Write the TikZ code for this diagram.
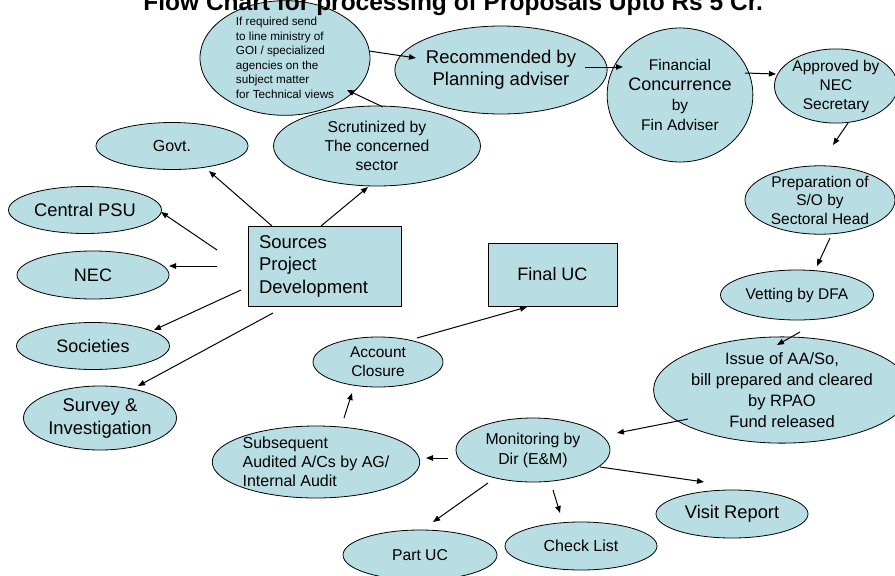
\documentclass[tikz,border=0pt]{standalone}
\usepackage{fontspec}
\setmainfont{Liberation Sans}
\usetikzlibrary{shapes.geometric,arrows.meta}
\newcommand\fsz[2]{\fontsize{#1}{#2}\selectfont}
\definecolor{cellfill}{RGB}{184,222,227}
\tikzset{
  ell/.style={ellipse, draw=black, line width=0.8pt, fill=cellfill, inner sep=0pt, align=center},
  boxn/.style={rectangle, draw=black, line width=0.8pt, fill=cellfill, inner sep=0pt},
  arr/.style={line width=1pt, -{Triangle[length=7pt,width=5.5pt]}},
}
\begin{document}
\begin{tikzpicture}[x=1pt,y=-1pt]
\useasboundingbox (0,0) rectangle (895,576);
% top row
\node[ell, minimum width=170, minimum height=96, align=left, font=\fsz{11.7}{14.5}] (ifreq) at (285,58)
  {If required send\\to line ministry of\\GOI / specialized\\agencies on the\\subject matter\\for Technical views};
\node[ell, minimum width=168, minimum height=88, font=\fsz{18.5}{22}] (recom) at (501,70) {Recommended by\\Planning adviser};
\node[ell, minimum width=126, minimum height=134, font=\fsz{15.5}{20}] (fin) at (680,95)
  {Financial\\{\fsz{18}{21}Concurrence}\\by\\Fin Adviser};
\node[ell, minimum width=118, minimum height=72, font=\fsz{15.5}{19}] (appr) at (836,86) {Approved by\\NEC\\Secretary};
\node[ell, minimum width=150, minimum height=66, font=\fsz{15.5}{18.5}] (prep) at (820,200) {Preparation of\\S/O by\\Sectoral Head};
\node[ell, minimum width=153, minimum height=50, font=\fsz{15.5}{19}] (vet) at (797,295) {Vetting by DFA};
\node[ell, minimum width=236, minimum height=106, font=\fsz{16.5}{21}] (issue) at (782,390)
  {Issue of AA/So,\\bill prepared and cleared\\by RPAO\\Fund released};
% bottom
\node[ell, minimum width=154, minimum height=64, font=\fsz{15.8}{20}] (mon) at (533,450) {Monitoring by\\Dir (E\&M)};
\node[ell, minimum width=200, minimum height=72, align=left, font=\fsz{16}{19}] (subs) at (316,462)
  {Subsequent\\Audited A/Cs by AG/\\Internal Audit};
\node[ell, minimum width=154, minimum height=50, font=\fsz{15.7}{19}] (partuc) at (420,555) {Part UC};
\node[ell, minimum width=152, minimum height=48, font=\fsz{16}{19}] (check) at (581,546) {Check List};
\node[ell, minimum width=152, minimum height=48, font=\fsz{18.3}{21}] (visit) at (732,514) {Visit Report};
\node[ell, minimum width=130, minimum height=50, font=\fsz{15.5}{19}] (acc) at (378,362) {Account\\Closure};
\node[boxn, minimum width=129, minimum height=63, font=\fsz{18}{21}] (final) at (552.5,274.5) {Final UC};
\node[boxn, minimum width=153, minimum height=80, text width=131, align=left, font=\fsz{18.5}{22.5}] (sources) at (324.5,266)
  {Sources\\Project\\Development};
% left
\node[ell, minimum width=207, minimum height=80, font=\fsz{15.7}{19}] (scrut) at (377,146) {Scrutinized by\\The concerned\\sector};
\node[ell, minimum width=152, minimum height=47, font=\fsz{16}{19}] (govt) at (172,146) {Govt.};
\node[ell, minimum width=153, minimum height=47, font=\fsz{18.3}{21}] (cpsu) at (85,210) {Central PSU};
\node[ell, minimum width=152, minimum height=48, font=\fsz{18}{21}] (nec) at (93,275) {NEC};
\node[ell, minimum width=153, minimum height=47, font=\fsz{18}{21}] (soc) at (93,346) {Societies};
\node[ell, minimum width=153, minimum height=64, font=\fsz{18.4}{23}] (survey) at (100,418) {Survey \&\\Investigation};
% connector end points
\coordinate (a1s) at (369,51);  \coordinate (a1e) at (416,58);
\coordinate (a2s) at (585,67);  \coordinate (a2e) at (623,67);
\coordinate (a3s) at (745,73);  \coordinate (a3e) at (776,74);
\coordinate (a4s) at (848,123); \coordinate (a4e) at (833,145);
\coordinate (a5s) at (830,238); \coordinate (a5e) at (817,266);
\coordinate (a6s) at (800,332); \coordinate (a6e) at (777,345);
\coordinate (a7s) at (688,419); \coordinate (a7e) at (617,433);
\coordinate (a8s) at (600,467); \coordinate (a8e) at (704,482);
\coordinate (a9s) at (553,490); \coordinate (a9e) at (560,513);
\coordinate (a10s) at (488,483); \coordinate (a10e) at (433,522);
\coordinate (a11s) at (448,458); \coordinate (a11e) at (426,458);
\coordinate (a12s) at (344,418); \coordinate (a12e) at (352,393);
\coordinate (a13s) at (417,338); \coordinate (a13e) at (527,307);
\coordinate (a14s) at (321,226); \coordinate (a14e) at (368,187);
\coordinate (a15s) at (383,107); \coordinate (a15e) at (347,90);
\coordinate (a16s) at (272,226); \coordinate (a16e) at (209,171);
\coordinate (a17s) at (217,250); \coordinate (a17e) at (161,212);
\coordinate (a18s) at (217,266); \coordinate (a18e) at (169,266);
\coordinate (a19s) at (241,290); \coordinate (a19e) at (154,330);
\coordinate (a20s) at (273,313); \coordinate (a20e) at (138,386);
\foreach \i in {1,...,20} { \draw[arr] (a\i s) -- (a\i e); }
% title (partly cut by page edge, as in the reference), drawn on top
\node[anchor=base east, inner sep=0pt, font=\bfseries\fsz{24.5}{26}] (title) at (763,10) {Flow Chart for processing of Proposals Upto Rs 5 Cr.};
\end{tikzpicture}
\end{document}
